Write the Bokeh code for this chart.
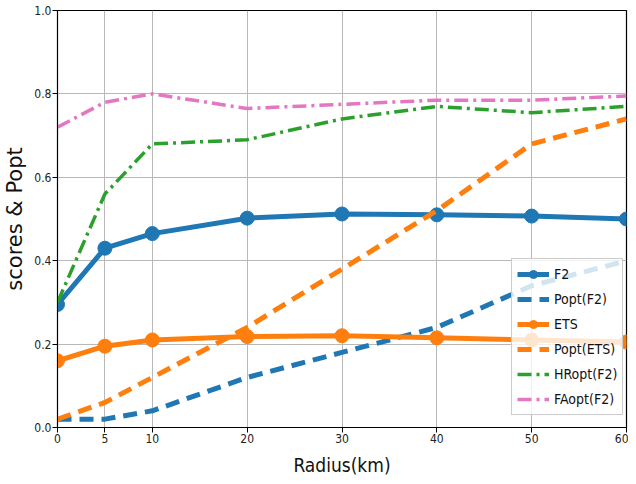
from bokeh.plotting import figure
from bokeh.models import Legend, LegendItem, FixedTicker, Range1d, CustomJSTickFormatter
from bokeh.embed import file_html
from bokeh.resources import INLINE

radius = [0, 5, 10, 20, 30, 40, 50, 60]
f2 = [0.295, 0.43, 0.465, 0.502, 0.512, 0.51, 0.507, 0.50]
popt_f2 = [0.02, 0.02, 0.04, 0.12, 0.18, 0.24, 0.34, 0.40]
ets = [0.16, 0.195, 0.21, 0.218, 0.22, 0.215, 0.21, 0.205]
popt_ets = [0.02, 0.06, 0.12, 0.24, 0.38, 0.52, 0.68, 0.74]
hropt_f2 = [0.30, 0.56, 0.68, 0.69, 0.74, 0.77, 0.755, 0.77]
faopt_f2 = [0.72, 0.78, 0.80, 0.765, 0.775, 0.785, 0.785, 0.795]
x_ticks = [0, 5, 10, 20, 30, 40, 50, 60]
y_ticks = [0.0, 0.2, 0.4, 0.6, 0.8, 1.0]

BLUE, ORANGE, GREEN, PINK = "#1f77b4", "#ff7f0e", "#2ca02c", "#e377c2"
FONT = "DejaVu Sans"
CFONT = "DejaVu Sans Condensed"

p = figure(width=628, height=478, output_backend="svg", toolbar_location=None,
           x_range=Range1d(0, 60), y_range=Range1d(0, 1.0),
           min_border_left=56, min_border_right=2, min_border_top=10, min_border_bottom=40)

p.outline_line_color = "black"
p.outline_line_width = 1.2
for ax in (p.xaxis[0], p.yaxis[0]):
    ax.axis_line_color = "black"
    ax.major_tick_line_color = "black"
    ax.minor_tick_line_color = None
    ax.major_tick_out = 5
    ax.major_tick_in = 0
    ax.major_label_text_font = CFONT
    ax.major_label_text_font_size = "12px"
    ax.major_label_text_color = "#222222"
    ax.major_label_standoff = 1
    ax.axis_label_text_font_style = "normal"
    ax.axis_label_text_color = "#111111"

p.xaxis.ticker = FixedTicker(ticks=x_ticks)
p.yaxis.ticker = FixedTicker(ticks=y_ticks)
p.yaxis.formatter = CustomJSTickFormatter(code="return tick.toFixed(1);")
p.xaxis.axis_label = "Radius(km)"
p.yaxis.axis_label = "scores & Popt"
p.xaxis.axis_label_text_font = CFONT
p.yaxis.axis_label_text_font = FONT
p.xaxis.axis_label_text_font_size = "19px"
p.yaxis.axis_label_text_font_size = "21px"
p.xaxis.axis_label_standoff = 8
p.yaxis.axis_label_standoff = 4

p.xgrid.grid_line_color = "#b8b8b8"
p.ygrid.grid_line_color = "#b8b8b8"
p.xgrid.grid_line_width = 1
p.ygrid.grid_line_width = 1

r_f2 = p.line(radius, f2, color=BLUE, line_width=5)
m_f2 = p.scatter(radius, f2, color=BLUE, size=14)
r_pf2 = p.line(radius, popt_f2, color=BLUE, line_width=5, line_dash="14 8")
r_ets = p.line(radius, ets, color=ORANGE, line_width=5)
m_ets = p.scatter(radius, ets, color=ORANGE, size=14)
r_pets = p.line(radius, popt_ets, color=ORANGE, line_width=5, line_dash="14 8")
r_hr = p.line(radius, hropt_f2, color=GREEN, line_width=3.5, line_dash="14 5 3 5")
r_fa = p.line(radius, faopt_f2, color=PINK, line_width=3.5, line_dash="14 5 3 5")

legend = Legend(items=[
    LegendItem(label="F2", renderers=[r_f2, m_f2]),
    LegendItem(label="Popt(F2)", renderers=[r_pf2]),
    LegendItem(label="ETS", renderers=[r_ets, m_ets]),
    LegendItem(label="Popt(ETS)", renderers=[r_pets]),
    LegendItem(label="HRopt(F2)", renderers=[r_hr]),
    LegendItem(label="FAopt(F2)", renderers=[r_fa]),
], location=(454, 12))
legend.label_text_font = CFONT
legend.label_text_font_size = "14px"
legend.label_text_color = "#111111"
legend.glyph_width = 32
legend.glyph_height = 20
legend.spacing = 5
legend.padding = 5
legend.margin = 0
legend.label_standoff = 5
legend.background_fill_alpha = 0.8
legend.border_line_color = "#cccccc"
legend.border_line_alpha = 1
p.add_layout(legend)

open("out.html", "w").write(file_html(p, INLINE))
